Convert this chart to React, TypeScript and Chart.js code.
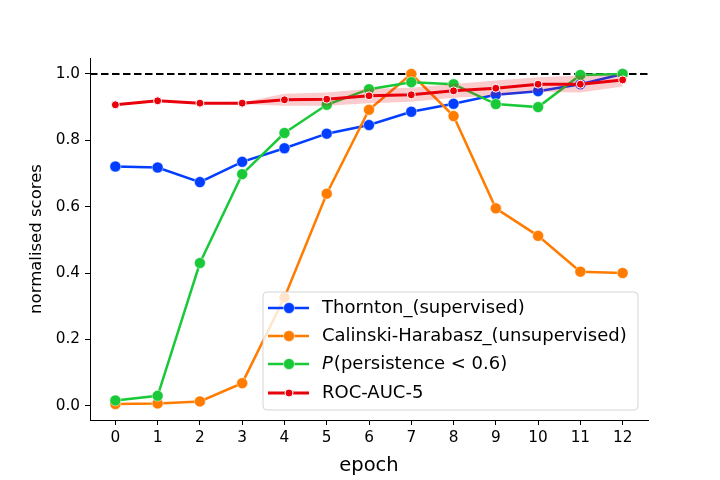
import React, { useEffect, useRef } from "react";
import { Chart, registerables } from "chart.js";

Chart.register(...registerables);

const epochs = [0, 1, 2, 3, 4, 5, 6, 7, 8, 9, 10, 11, 12];
const yTicks = [0.0, 0.2, 0.4, 0.6, 0.8, 1.0];

const thornton = [0.721, 0.718, 0.674, 0.735, 0.776, 0.82, 0.846, 0.886, 0.91, 0.937, 0.948, 0.969, 1.0];
const calinski = [0.005, 0.007, 0.013, 0.068, 0.326, 0.639, 0.892, 1.0, 0.873, 0.595, 0.512, 0.404, 0.4];
const persistence = [0.016, 0.03, 0.43, 0.698, 0.822, 0.907, 0.954, 0.975, 0.969, 0.909, 0.9, 0.997, 1.0];
const rocAuc = [0.907, 0.919, 0.912, 0.912, 0.922, 0.924, 0.934, 0.937, 0.949, 0.957, 0.969, 0.969, 0.982];
const rocUpper = [0.909, 0.921, 0.914, 0.915, 0.94, 0.944, 0.955, 0.958, 0.97, 0.98, 0.99, 0.995, 0.998];
const rocLower = [0.905, 0.917, 0.91, 0.909, 0.904, 0.904, 0.912, 0.916, 0.928, 0.934, 0.946, 0.944, 0.962];

const labels = [
  "Thornton_(supervised)",
  "Calinski-Harabasz_(unsupervised)",
  "P(persistence < 0.6)",
  "ROC-AUC-5",
];
const colors = ["#023eff", "#ff7c00", "#1ac938", "#e8000b"];

const FONT = "'DejaVu Sans', sans-serif";

const toXY = (arr: number[]) => arr.map((v, i) => ({ x: epochs[i], y: v }));

export default function App() {
  const ref = useRef<HTMLCanvasElement | null>(null);

  useEffect(() => {
    document.body.style.margin = "0";
    const canvas = ref.current;
    if (!canvas) return;

    const hline = {
      id: "hline",
      beforeDatasetsDraw(chart: any) {
        const { ctx, chartArea, scales } = chart;
        const y = scales.y.getPixelForValue(1.0);
        ctx.save();
        ctx.strokeStyle = "#000";
        ctx.lineWidth = 2;
        ctx.setLineDash([7.5, 3.5]);
        ctx.beginPath();
        ctx.moveTo(chartArea.left, y);
        ctx.lineTo(chartArea.right, y);
        ctx.stroke();
        ctx.restore();
      },
    };

    const legendPlugin = {
      id: "customLegend",
      afterDatasetsDraw(chart: any) {
        const { ctx } = chart;
        const bx = 263, by = 292, bw = 375, bh = 118, r = 4;
        ctx.save();
        ctx.beginPath();
        ctx.moveTo(bx + r, by);
        ctx.lineTo(bx + bw - r, by);
        ctx.quadraticCurveTo(bx + bw, by, bx + bw, by + r);
        ctx.lineTo(bx + bw, by + bh - r);
        ctx.quadraticCurveTo(bx + bw, by + bh, bx + bw - r, by + bh);
        ctx.lineTo(bx + r, by + bh);
        ctx.quadraticCurveTo(bx, by + bh, bx, by + bh - r);
        ctx.lineTo(bx, by + r);
        ctx.quadraticCurveTo(bx, by, bx + r, by);
        ctx.closePath();
        ctx.fillStyle = "rgba(255,255,255,0.8)";
        ctx.fill();
        ctx.strokeStyle = "rgba(204,204,204,0.8)";
        ctx.lineWidth = 1;
        ctx.stroke();

        const rows = [308, 336, 364, 393];
        labels.forEach((lab, i) => {
          const y = rows[i];
          ctx.strokeStyle = colors[i];
          ctx.lineWidth = i === 3 ? 3 : 2.5;
          ctx.beginPath();
          ctx.moveTo(268, y);
          ctx.lineTo(309, y);
          ctx.stroke();
          ctx.beginPath();
          ctx.arc(289, y, i === 3 ? 4 : 5.5, 0, Math.PI * 2);
          ctx.fillStyle = colors[i];
          ctx.fill();
          ctx.strokeStyle = "#fff";
          ctx.lineWidth = i === 3 ? 1 : 0.5;
          ctx.stroke();

          ctx.fillStyle = "#000";
          ctx.textBaseline = "middle";
          ctx.textAlign = "left";
          if (i === 2) {
            ctx.font = `italic 18px ${FONT}`;
            ctx.fillText("P", 322, y);
            const w = ctx.measureText("P").width;
            ctx.font = `18px ${FONT}`;
            ctx.fillText("(persistence < 0.6)", 322 + w + 1, y);
          } else {
            ctx.font = `18px ${FONT}`;
            ctx.fillText(lab, 322, y);
          }
        });
        ctx.restore();
      },
    };

    const lineStyle = (i: number, order: number) => ({
      borderColor: colors[i],
      backgroundColor: colors[i],
      borderWidth: 2.5,
      pointRadius: 5.5,
      pointBorderColor: "#fff",
      pointBorderWidth: 0.5,
      order,
    });

    const chart = new Chart(canvas, {
      type: "line",
      data: {
        datasets: [
          { label: labels[0], data: toXY(thornton), ...lineStyle(0, 5) },
          { label: labels[1], data: toXY(calinski), ...lineStyle(1, 4) },
          { label: labels[2], data: toXY(persistence), ...lineStyle(2, 3) },
          {
            label: "lower",
            data: toXY(rocLower),
            borderWidth: 0,
            borderColor: "rgba(0,0,0,0)",
            pointRadius: 0,
            fill: false,
            order: 2,
          },
          {
            label: "upper",
            data: toXY(rocUpper),
            borderWidth: 0,
            borderColor: "rgba(0,0,0,0)",
            backgroundColor: "rgba(232,0,11,0.2)",
            pointRadius: 0,
            fill: "-1",
            order: 2,
          },
          {
            label: labels[3],
            data: toXY(rocAuc),
            borderColor: colors[3],
            backgroundColor: colors[3],
            borderWidth: 3,
            pointRadius: 4,
            pointBorderColor: "#fff",
            pointBorderWidth: 1,
            order: 1,
          },
        ],
      },
      options: {
        animation: false,
        responsive: false,
        devicePixelRatio: 1,
        layout: { padding: { left: 0, right: 72, top: 58, bottom: 0 } },
        plugins: {
          legend: { display: false },
          tooltip: { enabled: false },
        },
        scales: {
          x: {
            type: "linear",
            min: -0.6,
            max: 12.6,
            afterFit: (s: any) => {
              s.height = 60;
            },
            afterBuildTicks: (s: any) => {
              s.ticks = epochs.map((v) => ({ value: v }));
            },
            ticks: {
              color: "#000",
              font: { family: FONT, size: 15.3 },
              padding: 4,
              callback: (v: any) => String(v),
            },
            grid: { drawOnChartArea: false, drawTicks: true, tickLength: 5, color: "#000" },
            border: { display: true, color: "#000", width: 1 },
            title: {
              display: true,
              text: "epoch",
              color: "#000",
              font: { family: FONT, size: 19.5 },
              padding: { top: 0, bottom: 2 },
            },
          },
          y: {
            type: "linear",
            min: -0.043,
            max: 1.048,
            afterFit: (s: any) => {
              s.width = 90;
            },
            afterBuildTicks: (s: any) => {
              s.ticks = yTicks.map((v) => ({ value: v }));
            },
            ticks: {
              color: "#000",
              font: { family: FONT, size: 15.3 },
              padding: 5,
              callback: (v: any) => Number(v).toFixed(1),
            },
            grid: { drawOnChartArea: false, drawTicks: true, tickLength: 5, color: "#000" },
            border: { display: true, color: "#000", width: 1 },
            title: {
              display: true,
              text: "normalised scores",
              color: "#000",
              font: { family: FONT, size: 16.5 },
              padding: { top: 27, bottom: 0 },
            },
          },
        },
      },
      plugins: [hline, legendPlugin],
    });

    return () => chart.destroy();
  }, []);

  return (
    <div style={{ width: 720, height: 480, position: "relative" }}>
      <canvas ref={ref} width={720} height={480} style={{ display: "block" }} />
    </div>
  );
}
